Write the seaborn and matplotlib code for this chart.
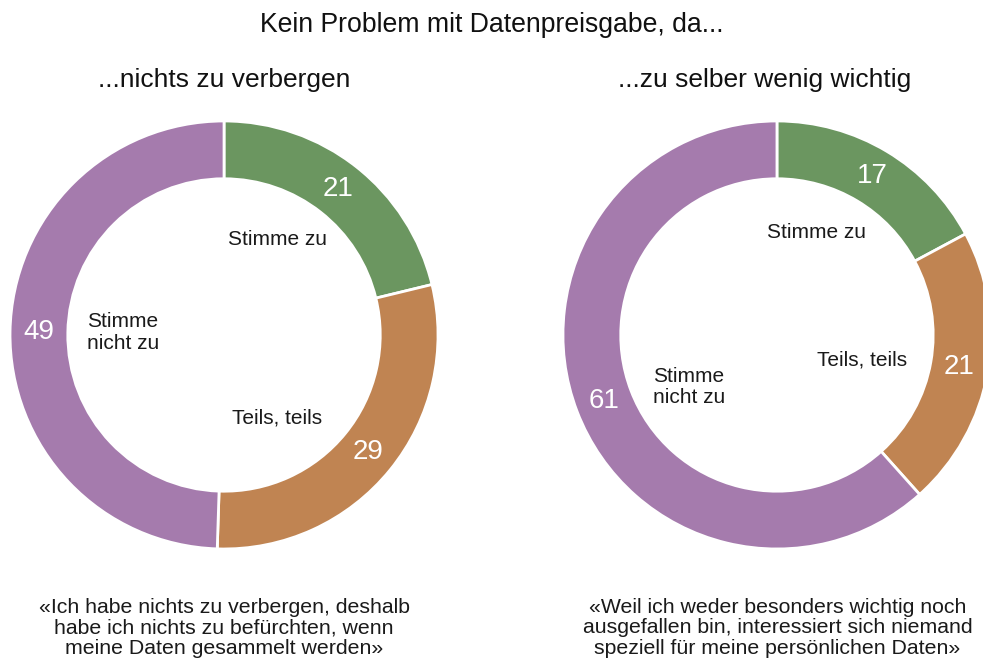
import numpy as np
import matplotlib
matplotlib.use("Agg")
import matplotlib.pyplot as plt
import seaborn as sns

# data
categories = ["Stimme zu", "Teils, teils", "Stimme\nnicht zu"]
values_left = [21, 29, 49]
values_right = [17, 21, 61]
subtitles = ["...nichts zu verbergen", "...zu selber wenig wichtig"]
quotes = [
    "«Ich habe nichts zu verbergen, deshalb\nhabe ich nichts zu befürchten, wenn\nmeine Daten gesammelt werden»",
    "«Weil ich weder besonders wichtig noch\nausgefallen bin, interessiert sich niemand\nspeziell für meine persönlichen Daten»",
]
title = "Kein Problem mit Datenpreisgabe, da..."

sns.set_theme(style="white")
plt.rcParams["font.family"] = ["Liberation Sans", "DejaVu Sans"]

colors = sns.color_palette(["#6b9660", "#c08452", "#a57bad"])

fig = plt.figure(figsize=(9.83, 6.6), dpi=100)

# layout: axes rects (pixel-fitted), category label offsets inside ring
rects = [[0.0102, 0.1682, 0.4354, 0.6485], [0.5727, 0.1682, 0.4354, 0.6485]]
label_pos = [
    [(0.248, 0.444), (0.248, -0.388), (-0.642, 0.012)],
    [(0.187, 0.477), (0.397, -0.117), (-0.581, -0.243)],
]
label_ha = [["center", "center", "left"], ["center", "center", "left"]]
sub_x = [0.2285, 0.778]
quote_x = [0.228, 0.791]

for k, vals in enumerate([values_left, values_right]):
    ax = fig.add_axes(rects[k])
    wedges, _ = ax.pie(vals, colors=colors, startangle=90, counterclock=False,
                       radius=1, wedgeprops=dict(width=0.27, edgecolor="white", linewidth=2))
    for w in wedges:
        w.set_clip_on(False)
    ax.set_xlim(-1, 1)
    ax.set_ylim(-1, 1)
    ax.set_aspect("equal")
    ax.axis("off")

    # value labels sit in the middle of the ring at each wedge's mid-angle
    total = float(sum(vals))
    cum = np.cumsum([0] + vals)
    for i, v in enumerate(vals):
        mid = (cum[i] + v / 2) / total * 2 * np.pi
        r = 0.865
        ax.text(r * np.sin(mid), r * np.cos(mid), str(v), color="white",
                fontsize=20, ha="center", va="center")
        lx, ly = label_pos[k][i]
        ax.text(lx, ly, categories[i], color="#1a1a1a", fontsize=15,
                ha=label_ha[k][i], va="center", linespacing=1.15)

    fig.text(sub_x[k], 0.879, subtitles[k], fontsize=19, ha="center", va="center", color="#111111")
    fig.text(quote_x[k], 0.0485, quotes[k], fontsize=15.3, ha="center", va="center",
             linespacing=1.1, color="#1a1a1a")

fig.text(0.5, 0.962, title, fontsize=19.2, ha="center", va="center", color="#111111")

fig.savefig("out.png", dpi=100, facecolor="white")
